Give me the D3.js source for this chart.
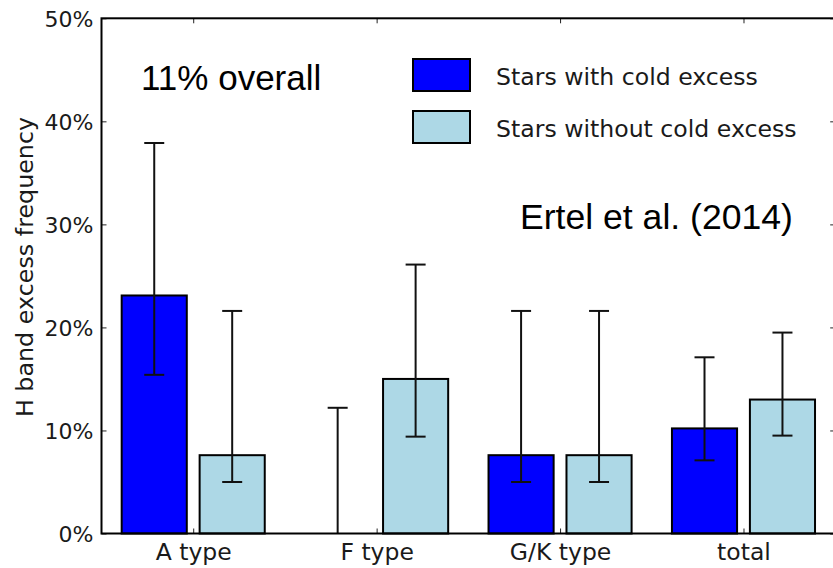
<!DOCTYPE html>
<html>
<head>
<meta charset="utf-8">
<script src="https://cdn.jsdelivr.net/npm/d3@7"></script>
<style>
  html, body { margin: 0; padding: 0; background: #fff; }
  svg { display: block; }
</style>
</head>
<body>
<svg id="chart" width="833" height="568"></svg>
<script>
// Spectral-type groups and the H-band excess frequency (%) per group
const categories = ["A type", "F type", "G/K type", "total"];
const seriesNames = ["Stars with cold excess", "Stars without cold excess"];
const withCold = [23.1, 0, 7.6, 10.2];
const withColdLow = [15.4, 0, 5.0, 7.1];
const withColdHigh = [37.9, 12.2, 21.6, 17.1];
const withoutCold = [7.6, 15.0, 7.6, 13.0];
const withoutColdLow = [5.0, 9.4, 5.0, 9.5];
const withoutColdHigh = [21.6, 26.1, 21.6, 19.5];
const yTicks = [0, 10, 20, 30, 40, 50];
const yLabel = "H band excess frequency";
const noteOverall = "11% overall";
const noteSource = "Ertel et al. (2014)";

const svg = d3.select("#chart");
const plotLeft = 101.5, plotRight = 835.2, plotTop = 18.3, plotBottom = 533.5;

const x = d3.scaleLinear().domain([-0.5, categories.length - 0.5]).range([plotLeft, plotRight]);
const y = d3.scaleLinear().domain([0, 50]).range([plotBottom, plotTop]);

const colors = ["#0000ff", "#add8e6"];
const gap = 0.035, barW = 0.355;

const series = [
  { name: seriesNames[0], vals: withCold, lo: withColdLow, hi: withColdHigh, color: colors[0], side: -1 },
  { name: seriesNames[1], vals: withoutCold, lo: withoutColdLow, hi: withoutColdHigh, color: colors[1], side: 1 }
];

// Bars
series.forEach(s => {
  const g = svg.append("g");
  g.selectAll("rect").data(s.vals).join("rect")
    .attr("x", (d, i) => s.side < 0 ? x(i - gap - barW) : x(i + gap))
    .attr("width", x(barW) - x(0))
    .attr("y", d => y(d))
    .attr("height", d => y(0) - y(d))
    .attr("fill", s.color)
    .attr("stroke", "#000")
    .attr("stroke-width", 2);
});

// Error bars
series.forEach(s => {
  const g = svg.append("g").attr("stroke", "#111").attr("stroke-width", 2).attr("fill", "none");
  const cx = i => x(i + s.side * (gap + barW / 2));
  s.vals.forEach((v, i) => {
    g.append("line").attr("x1", cx(i)).attr("x2", cx(i)).attr("y1", y(s.lo[i])).attr("y2", y(s.hi[i]));
    if (s.hi[i] > 0) g.append("line").attr("x1", cx(i) - 10).attr("x2", cx(i) + 10).attr("y1", y(s.hi[i])).attr("y2", y(s.hi[i]));
    if (s.lo[i] > 0) g.append("line").attr("x1", cx(i) - 10).attr("x2", cx(i) + 10).attr("y1", y(s.lo[i])).attr("y2", y(s.lo[i]));
  });
});

// Axes with inward ticks
const tickFont = "'DejaVu Sans', sans-serif";
const yAxis = svg.append("g").attr("transform", `translate(${plotLeft},0)`)
  .call(d3.axisLeft(y).tickValues(yTicks).tickFormat(d => d + "%").tickSize(-5).tickSizeOuter(0).tickPadding(8));
const yAxisR = svg.append("g").attr("transform", `translate(${plotRight},0)`)
  .call(d3.axisRight(y).tickValues(yTicks).tickFormat("").tickSize(-5).tickSizeOuter(0));
const xAxis = svg.append("g").attr("transform", `translate(0,${plotBottom})`)
  .call(d3.axisBottom(x).tickValues(d3.range(categories.length)).tickFormat(i => categories[i]).tickSize(-5).tickSizeOuter(0).tickPadding(10));
const xAxisT = svg.append("g").attr("transform", `translate(0,${plotTop})`)
  .call(d3.axisTop(x).tickValues(d3.range(categories.length)).tickFormat("").tickSize(-5).tickSizeOuter(0));

[yAxis, yAxisR, xAxis, xAxisT].forEach(a => {
  a.select(".domain").remove();
  a.selectAll(".tick line").attr("stroke", "#222").attr("stroke-width", 1);
  a.selectAll("text").attr("font-family", tickFont).attr("font-size", 22).attr("fill", "#1a1a1a");
});
yAxis.selectAll("text").attr("dy", "0.36em");
xAxis.selectAll("text").attr("font-size", 23.5).attr("dy", "0.72em");

// Frame
svg.append("rect")
  .attr("x", plotLeft).attr("y", plotTop)
  .attr("width", plotRight - plotLeft).attr("height", plotBottom - plotTop)
  .attr("fill", "none").attr("stroke", "#000").attr("stroke-width", 2);

// Y label
svg.append("text")
  .attr("transform", `translate(33,267) rotate(-90)`)
  .attr("text-anchor", "middle")
  .attr("font-family", tickFont).attr("font-size", 23.8).attr("fill", "#1a1a1a")
  .text(yLabel);

// Legend
const legend = svg.append("g");
series.forEach((s, i) => {
  const ly = 59 + i * 52;
  legend.append("rect").attr("x", 413).attr("y", ly).attr("width", 57).attr("height", 32)
    .attr("fill", s.color).attr("stroke", "#000").attr("stroke-width", 2);
  legend.append("text").attr("x", 496).attr("y", ly + 25.5)
    .attr("font-family", tickFont).attr("font-size", 23.6).attr("fill", "#1a1a1a")
    .text(s.name);
});

// Annotations
const noteFont = "'Liberation Sans', Arial, sans-serif";
svg.append("text").attr("x", 141).attr("y", 90)
  .attr("font-family", noteFont).attr("font-size", 35).attr("fill", "#000").text(noteOverall);
svg.append("text").attr("x", 520).attr("y", 229)
  .attr("font-family", noteFont).attr("font-size", 35.6).attr("fill", "#000").text(noteSource);
</script>
</body>
</html>
